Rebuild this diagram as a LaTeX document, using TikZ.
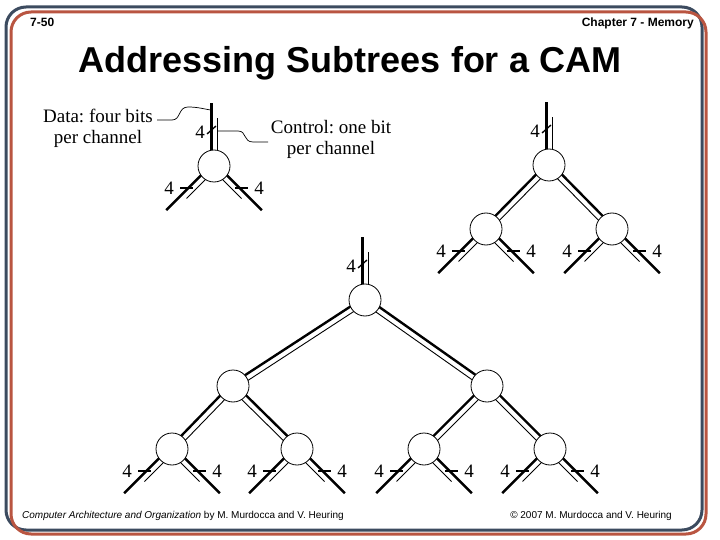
\documentclass[tikz,border=0pt]{standalone}
\usepackage{fontspec}
\setmainfont{Liberation Serif}
\setsansfont{Liberation Sans}
\usetikzlibrary{calc, backgrounds}
\frenchspacing

\definecolor{frameblue}{RGB}{60,75,95}
\definecolor{framered}{RGB}{185,85,65}

% double channel between two cells: thick data line on the outer side, thin control line inside
\newcommand{\branch}[3]{%
  \draw[dataline] let \p1=($(#2)-(#1)$), \n1={atan2(\y1,\x1)+#3} in
    ($(#1)+(\n1:2.5pt)$) -- ($(#2)+(\n1:2.5pt)$);
  \draw[ctrlline] let \p1=($(#2)-(#1)$), \n1={atan2(\y1,\x1)+#3+180} in
    ($(#1)+(\n1:3.5pt)$) -- ($(#2)+(\n1:3.5pt)$);
}
% input channel above a cell
\newcommand{\busin}[1]{%
  \draw[dataline] ($(#1)+(-2.5,0)$) -- ($(#1)+(-2.5,-63)$);
  \draw[ctrlline] ($(#1)+(3.5,0)$) -- ($(#1)+(3.5,-48)$);
  \draw[slash] ($(#1)+(-7,-32)$) -- ($(#1)+(2,-40)$);
  \node[buslbl] (#1In) at ($(#1)+(-14,-34)$) {4};
}
% two output channels below a cell
\newcommand{\busout}[1]{%
  \draw[dataline] ($(#1)+(-1.8,-1.8)$) -- ($(#1)+(-47.8,44.2)$);
  \draw[ctrlline] ($(#1)+(2.5,2.5)$) -- ($(#1)+(-27.5,32.5)$);
  \draw[slash] ($(#1)+(-34,22)$) -- ($(#1)+(-21,22)$);
  \node[buslbl] (#1OutL) at ($(#1)+(-45,22)$) {4};
  \draw[dataline] ($(#1)+(1.8,-1.8)$) -- ($(#1)+(47.8,44.2)$);
  \draw[ctrlline] ($(#1)+(-2.5,2.5)$) -- ($(#1)+(27.5,32.5)$);
  \draw[slash] ($(#1)+(21,22)$) -- ($(#1)+(34,22)$);
  \node[buslbl] (#1OutR) at ($(#1)+(45,22)$) {4};
}

\begin{document}
\begin{tikzpicture}[x=1pt, y=-1pt,
    cell/.style={circle, draw, line width=0.8pt, fill=white, minimum size=32pt, inner sep=0pt},
    dataline/.style={line width=2.4pt},
    ctrlline/.style={line width=0.9pt},
    slash/.style={line width=1.3pt},
    wire/.style={line width=0.7pt},
    buslbl/.style={font=\fontsize{19}{19}\selectfont, inner sep=0pt},
    note/.style={font=\fontsize{19}{21}\selectfont, align=center, inner sep=0pt},
    frame/.style={line width=3pt, rounded corners=20pt}
]
\useasboundingbox (0,0) rectangle (720,540);

% --- Frame ---
\draw[frame, frameblue] (6,7) rectangle (702,530);
\draw[frame, framered] (11,12) rectangle (706,534);

% --- Header, title, footer ---
\node[font=\sffamily\bfseries\fontsize{12}{14}\selectfont, anchor=base west, inner sep=0pt] (slideNo) at (30,27) {7-50};
\node[font=\sffamily\bfseries\fontsize{12}{14}\selectfont, anchor=base east, inner sep=0pt] (chapter) at (694,27) {Chapter 7 - Memory};
\node[font=\sffamily\bfseries\fontsize{36}{40}\selectfont, anchor=base, inner sep=0pt] (title) at (350,73) {Addressing Subtrees for a CAM};
\node[font=\sffamily\fontsize{10}{12}\selectfont, anchor=base west, inner sep=0pt] (bookRef) at (22,518) {\textit{Computer Architecture and Organization} by M. Murdocca and V. Heuring};
\node[font=\sffamily\fontsize{10}{12}\selectfont, anchor=base east, inner sep=0pt] (copyRef) at (672,518) {\textcopyright{} 2007 M. Murdocca and V. Heuring};

% --- Cells ---
\node[cell] (solo) at (214,166) {};
\node[cell] (pair) at (549,165) {};
\node[cell] (pairL) at (486,229) {};
\node[cell] (pairR) at (612,229) {};
\node[cell] (root) at (365,300) {};
\node[cell] (midL) at (233,386) {};
\node[cell] (midR) at (487,386) {};
\node[cell] (leafA) at (172,449) {};
\node[cell] (leafB) at (297,449) {};
\node[cell] (leafC) at (424,449) {};
\node[cell] (leafD) at (550,449) {};

% --- Notes ---
\node[note] (dataNote) at (98,128) {Data: four bits\\per channel};
\node[note] (ctrlNote) at (331,139) {Control: one bit\\per channel};

\begin{pgfonlayer}{background}
% --- Channels ---
\busin{solo} \busout{solo}

\busin{pair}
\branch{pair}{pairL}{-90} \branch{pair}{pairR}{90}
\busout{pairL} \busout{pairR}

\busin{root}
\branch{root}{midL}{-90} \branch{root}{midR}{90}
\branch{midL}{leafA}{-90} \branch{midL}{leafB}{90}
\branch{midR}{leafC}{-90} \branch{midR}{leafD}{90}
\busout{leafA} \busout{leafB} \busout{leafC} \busout{leafD}

% --- Note leaders ---
\coordinate (dataTip) at (157,120);
\coordinate (dataEnd) at ($(solo)+(-3.5,-56)$);
\draw[wire] (dataTip) -- (172,120) .. controls (181,120) and (178,107) .. (188,107) .. controls (198,107) and (204,109) .. (dataEnd);
\coordinate (ctrlEnd) at ($(solo)+(3.5,-35)$);
\coordinate (ctrlTip) at (268,142);
\draw[wire] (ctrlEnd) -- (238,131) .. controls (247,131) and (243,142) .. (253,142) -- (ctrlTip);
\end{pgfonlayer}

\end{tikzpicture}
\end{document}
